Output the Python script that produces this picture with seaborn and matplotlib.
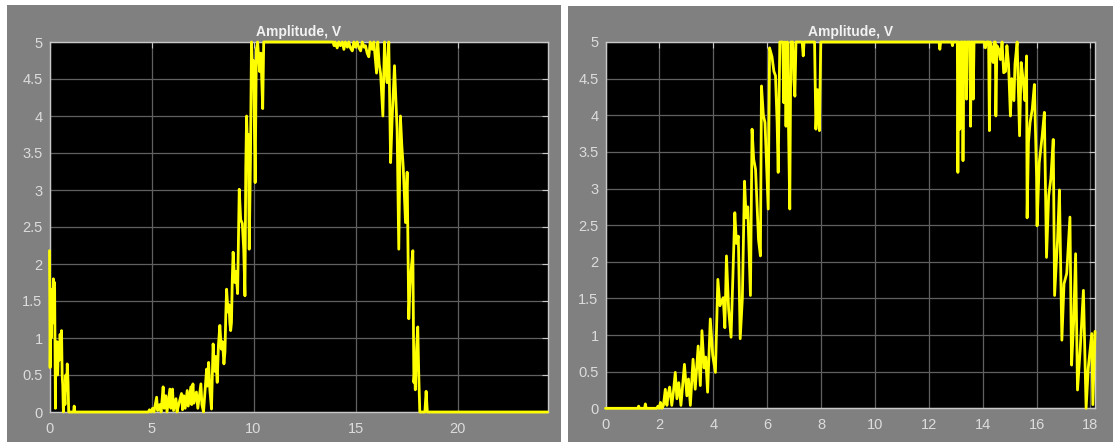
import matplotlib
matplotlib.use('Agg')
import matplotlib.pyplot as plt
from matplotlib.patches import Rectangle
import seaborn as sns

# left scope: time (s) and amplitude (V)
left_t = [0.0, 0.03, 0.06, 0.09, 0.12, 0.15, 0.19, 0.22, 0.25, 0.29, 0.31, 0.34, 0.37, 0.4, 0.44,
          0.48, 0.52, 0.56, 0.59, 0.62, 0.65, 0.68, 0.72, 0.76, 0.8, 0.84, 0.87, 0.91, 0.94, 1.18,
          1.21, 1.24, 4.84, 4.9, 4.98, 5.05, 5.12, 5.25, 5.3, 5.4, 5.47, 5.57, 5.62, 5.7, 5.76,
          5.9, 5.95, 6.03, 6.08, 6.2, 6.25, 6.35, 6.47, 6.52, 6.58, 6.65, 6.75, 6.8, 6.93, 6.97,
          7.03, 7.08, 7.2, 7.27, 7.42, 7.47, 7.55, 7.7, 7.74, 7.8, 7.86, 7.94, 8.02, 8.06, 8.1,
          8.15, 8.22, 8.28, 8.35, 8.42, 8.48, 8.55, 8.6, 8.64, 8.68, 8.75, 8.8, 8.84, 8.88, 8.92,
          8.96, 9.0, 9.08, 9.14, 9.22, 9.26, 9.3, 9.37, 9.45, 9.52, 9.58, 9.62, 9.66, 9.7, 9.74,
          9.79, 9.85, 9.9, 9.95, 10.0, 10.08, 10.14, 10.2, 10.3, 10.36, 10.45, 10.5, 13.6, 13.9,
          13.95, 14.0, 14.1, 14.18, 14.26, 14.35, 14.43, 14.5, 14.6, 14.67, 14.75, 14.84, 14.92,
          15.0, 15.08, 15.17, 15.25, 15.33, 15.42, 15.49, 15.57, 15.65, 15.72, 15.82, 15.9, 16.03,
          16.09, 16.16, 16.23, 16.34, 16.42, 16.5, 16.55, 16.63, 16.72, 16.8, 16.91, 16.98, 17.04,
          17.12, 17.2, 17.27, 17.34, 17.45, 17.53, 17.61, 17.67, 17.73, 17.81, 17.86, 17.9, 17.93,
          17.99, 18.05, 18.1, 18.15, 18.4, 18.46, 18.52, 24.41]
left_v = [2.18, 0.6, 1.6, 1.0, 1.66, 1.2, 1.8, 1.35, 1.75, 0.05, 0.9, 0.55, 0.95, 0.5, 0.94,
          0.7, 1.05, 0.8, 1.1, 0.5, 0.36, 0.0, 0.3, 0.1, 0.5, 0.3, 0.65, 0.4, 0.0, 0.0,
          0.08, 0.0, 0.0, 0.03, 0.0, 0.05, 0.0, 0.2, 0.02, 0.1, 0.0, 0.34, 0.05, 0.22, 0.0,
          0.31, 0.05, 0.31, 0.02, 0.18, 0.0, 0.12, 0.25, 0.03, 0.22, 0.05, 0.29, 0.08, 0.34, 0.1,
          0.38, 0.12, 0.27, 0.05, 0.38, 0.1, 0.0, 0.58, 0.35, 0.67, 0.3, 0.04, 0.92, 0.7, 0.55,
          0.75, 0.4, 0.9, 1.17, 0.85, 0.95, 0.65, 0.81, 1.3, 1.66, 1.35, 1.45, 1.2, 1.1, 1.21,
          1.8, 2.16, 1.75, 1.9, 1.6, 2.3, 3.01, 2.6, 2.55, 2.2, 1.57, 3.3, 4.0, 3.6, 3.75,
          2.2, 3.4, 5.0, 4.6, 4.75, 3.1, 4.9, 5.0, 4.6, 4.85, 4.1, 5.0, 5.0, 5.0,
          4.95, 5.0, 4.92, 5.0, 4.95, 5.0, 4.9, 5.0, 4.93, 5.0, 4.92, 4.88, 5.0,
          4.93, 5.0, 4.92, 4.88, 5.0, 4.93, 4.95, 4.85, 4.8, 5.0, 4.9, 5.0, 4.58,
          5.0, 4.7, 4.57, 4.0, 5.0, 4.6, 4.45, 5.0, 3.37, 4.0, 4.68, 4.2, 3.8,
          2.2, 4.0, 3.6, 3.3, 2.56, 3.24, 1.26, 1.7, 1.93, 2.18, 0.4, 0.55, 0.3,
          0.85, 1.15, 0.5, 0.0, 0.0, 0.28, 0.0, 0.0]

# right scope
right_t = [0.0, 1.2, 1.23, 1.26, 1.45, 1.48, 1.51, 1.9, 1.95, 2.0, 2.04, 2.1, 2.15, 2.22, 2.28,
           2.33, 2.38, 2.46, 2.52, 2.59, 2.65, 2.72, 2.8, 2.86, 2.93, 3.02, 3.08, 3.15, 3.25,
           3.33, 3.44, 3.52, 3.58, 3.66, 3.72, 3.79, 3.89, 3.98, 4.08, 4.17, 4.25, 4.37, 4.43,
           4.49, 4.57, 4.66, 4.8, 4.86, 4.93, 5.0, 5.08, 5.16, 5.22, 5.28, 5.38, 5.44, 5.5, 5.57,
           5.68, 5.75, 5.79, 5.86, 5.92, 6.04, 6.09, 6.18, 6.25, 6.31, 6.37, 6.41, 6.47, 6.58,
           6.62, 6.66, 6.7, 6.75, 6.8, 6.84, 6.88, 6.95, 6.99, 7.03, 7.07, 7.3, 7.34, 7.37, 7.76,
           7.81, 7.87, 7.94, 7.99, 12.38, 12.41, 12.44, 12.85, 12.88, 12.9, 13.06, 13.08, 13.11,
           13.15, 13.19, 13.25, 13.27, 13.3, 13.38, 13.4, 13.43, 13.53, 13.55, 13.58, 13.63,
           13.65, 13.68, 14.06, 14.1, 14.15, 14.22, 14.25, 14.28, 14.34, 14.39, 14.43, 14.47,
           14.49, 14.53, 14.6, 14.66, 14.72, 14.78, 14.85, 14.9, 14.96, 15.03, 15.08, 15.12,
           15.16, 15.2, 15.28, 15.37, 15.43, 15.5, 15.57, 15.63, 15.65, 15.7, 15.76, 15.84, 15.92,
           16.0, 16.02, 16.1, 16.21, 16.29, 16.37, 16.45, 16.53, 16.62, 16.67, 16.78, 16.85,
           16.94, 17.02, 17.12, 17.24, 17.3, 17.38, 17.45, 17.52, 17.62, 17.74, 17.84, 17.92,
           18.05, 18.09, 18.17]
right_v = [0.0, 0.0, 0.03, 0.0, 0.0, 0.06, 0.0, 0.0, 0.03, 0.0, 0.08, 0.0, 0.04, 0.26, 0.04,
           0.2, 0.29, 0.04, 0.22, 0.49, 0.13, 0.35, 0.04, 0.3, 0.6, 0.17, 0.4, 0.04, 0.67,
           0.26, 0.85, 0.31, 1.06, 0.55, 0.7, 0.22, 1.22, 0.72, 0.49, 1.76, 1.4, 1.51, 1.1,
           2.08, 1.35, 0.97, 2.67, 2.25, 2.35, 0.95, 1.5, 3.1, 2.6, 2.75, 1.54, 3.81, 3.4, 3.26,
           2.3, 2.08, 4.4, 4.0, 3.9, 2.72, 4.92, 4.8, 4.6, 4.54, 3.9, 3.22, 5.0, 5.0,
           4.17, 5.0, 3.85, 5.0, 3.67, 2.72, 5.0, 5.0, 4.49, 4.26, 5.0, 5.0, 4.81, 5.0, 5.0,
           3.81, 4.35, 3.79, 5.0, 5.0, 4.9, 5.0, 5.0, 4.95, 5.0, 5.0, 3.22, 5.0,
           3.81, 5.0, 5.0, 3.38, 5.0, 5.0, 4.22, 5.0, 5.0, 3.85, 5.0, 5.0,
           4.22, 5.0, 5.0, 4.92, 5.0, 5.0, 3.79, 5.0, 4.9, 4.72, 5.0, 5.0,
           3.99, 4.95, 4.9, 4.76, 5.0, 4.58, 4.6, 4.95, 4.7, 3.99, 4.5, 4.35,
           4.2, 4.7, 5.0, 3.72, 4.72, 4.49, 4.2, 4.81, 2.6, 3.63, 3.9, 4.08, 4.42,
           3.17, 2.49, 3.35, 3.72, 4.04, 2.06, 2.9, 3.13, 3.67, 1.54, 2.3, 2.98,
           0.93, 1.7, 1.84, 2.61, 0.59, 1.2, 2.11, 0.25, 0.8, 1.61, 0.0, 0.55,
           1.02, 0.05, 1.05]

y_ticks = [0, 0.5, 1, 1.5, 2, 2.5, 3, 3.5, 4, 4.5, 5]
y_labels = ['0', '0.5', '1', '1.5', '2', '2.5', '3', '3.5', '4', '4.5', '5']
left_xticks = [0, 5, 10, 15, 20]
right_xticks = [0, 2, 4, 6, 8, 10, 12, 14, 16, 18]
title = 'Amplitude, V'

sns.set_style('dark', {'axes.facecolor': 'black', 'grid.color': '#606060'})
plt.rcParams['font.family'] = ['Liberation Sans', 'DejaVu Sans']

fig = plt.figure(figsize=(11.13, 4.42), dpi=100, facecolor='white')
# the two grey scope windows
fig.add_artist(Rectangle((7 / 1113, 0), 554 / 1113, 437 / 442, transform=fig.transFigure,
                         facecolor='#808080', edgecolor='none', zorder=0))
fig.add_artist(Rectangle((568 / 1113, 0), 545 / 1113, 436 / 442, transform=fig.transFigure,
                         facecolor='#808080', edgecolor='none', zorder=0))

ax1 = fig.add_axes([49.5 / 1113, 30 / 442, 498 / 1113, 370 / 442])
ax2 = fig.add_axes([605.5 / 1113, 33.7 / 442, 489.5 / 1113, 366.3 / 442])

panels = [(ax1, left_t, left_v, left_xticks, 24.41),
          (ax2, right_t, right_v, right_xticks, 18.17)]

for ax, t, v, xt, xmax in panels:
    sns.lineplot(x=t, y=v, ax=ax, color='#ffff00', linewidth=2.0,
                 sort=False, estimator=None, clip_on=False, zorder=5)
    ax.set_xlim(0, xmax)
    ax.set_ylim(0, 5)
    ax.set_xticks(xt)
    ax.set_xticklabels([str(x) for x in xt])
    ax.set_yticks(y_ticks)
    ax.set_yticklabels(y_labels)
    ax.grid(True, color='#606060', linewidth=0.9)
    ax.set_axisbelow(True)
    for s in ax.spines.values():
        s.set_visible(True)
        s.set_color('#c8c8c8')
        s.set_linewidth(1.0)
    ax.tick_params(axis='both', direction='in', length=4, width=0.8, color='#c8c8c8',
                   labelcolor='#dcdcdc', labelsize=10.5, top=True, right=True)
    ax.tick_params(axis='x', pad=7)
    ax.tick_params(axis='y', pad=5)
    ax.set_xlabel('')
    ax.set_ylabel('')
    ax.set_title(title, color='#f2f2f2', fontsize=10, fontweight='bold', pad=4)

fig.savefig('out.png', dpi=100, facecolor=fig.get_facecolor())
